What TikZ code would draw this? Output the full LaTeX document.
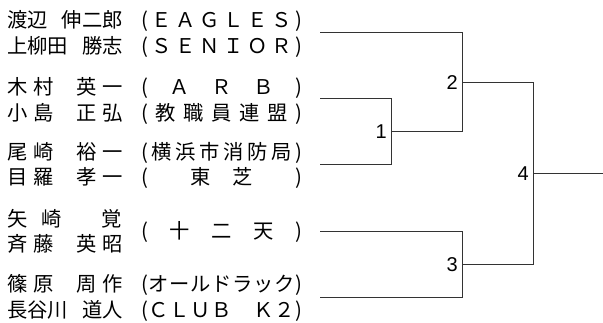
\documentclass[tikz,border=0pt]{standalone}
\usepackage{fontspec}
\setmainfont{Noto Sans CJK JP}
\newfontfamily\numfont{Liberation Sans}
\usetikzlibrary{positioning}
% name field: surname box, gap, given name box
\newcommand{\pname}[2]{\makebox[47pt][s]{#1}\hspace{22pt}\makebox[47pt][s]{#2}}
% club field, spread between the brackets
\newcommand{\tname}[1]{\makebox[161pt][s]{#1}}

\begin{document}
\begin{tikzpicture}[x=1pt,y=-1pt,
  player/.style={anchor=west,inner sep=0pt,text height=16pt,text depth=1pt,
    font=\fontsize{20.3pt}{24pt}\selectfont},
  club/.style={player},
  score/.style={inner sep=2pt,font=\numfont\fontsize{20pt}{24pt}\selectfont},
  line/.style={line width=1pt,draw=black!80}]
\useasboundingbox (0,0) rectangle (603,323);

% Pair 1
  \node[player] (n1a) at (7,20) {渡辺\hspace{14pt}伸二郎};
  \node[player] (n1b) at (7,46) {上柳田\hspace{14pt}勝志};
  \node[club] (t1a) at (141,20) {\tname{(\hfill Ｅ\hfill Ａ\hfill Ｇ\hfill Ｌ\hfill Ｅ\hfill Ｓ\hfill)}};
  \node[club] (t1b) at (141,46) {\tname{(\hfill Ｓ\hfill Ｅ\hfill Ｎ\hfill Ｉ\hfill Ｏ\hfill Ｒ\hfill)}};

% Pair 2
  \node[player] (n2a) at (7,87) {\pname{木\hfill 村}{英\hfill 一}};
  \node[player] (n2b) at (7,113) {\pname{小\hfill 島}{正\hfill 弘}};
  \node[club] (t2a) at (141,87) {\tname{(\hfill Ａ\hfill Ｒ\hfill Ｂ\hfill)}};
  \node[club] (t2b) at (141,113) {\tname{(\hfill 教\hfill 職\hfill 員\hfill 連\hfill 盟\hfill)}};

% Pair 3
  \node[player] (n3a) at (7,152) {\pname{尾\hfill 崎}{裕\hfill 一}};
  \node[player] (n3b) at (7,177) {\pname{目\hfill 羅}{孝\hfill 一}};
  \node[club] (t3a) at (141,152) {\tname{(\hfill 横\hfill 浜\hfill 市\hfill 消\hfill 防\hfill 局\hfill)}};
  \node[club] (t3b) at (141,177) {\tname{(\hfill\hfill 東\hfill 芝\hfill\hfill)}};

% Pair 4
  \node[player] (n4a) at (7,219) {矢\hspace{14pt}崎\hspace{40pt}覚};
  \node[player] (n4b) at (7,244) {\pname{斉\hfill 藤}{英\hfill 昭}};
  \node[club] (t4) at (141,231) {\tname{(\hfill 十\hfill 二\hfill 天\hfill)}};

% Pair 5
  \node[player] (n5a) at (7,284) {\pname{篠\hfill 原}{周\hfill 作}};
  \node[player] (n5b) at (7,310) {長谷川\hspace{14pt}道人};
  \node[club] (t5a) at (141,284) {\tname{(\hfill オ\hfill ー\hfill ル\hfill ド\hfill ラ\hfill ッ\hfill ク\hfill)}};
  \node[club] (t5b) at (141,310) {\tname{(\hfill Ｃ\hfill Ｌ\hfill Ｕ\hfill Ｂ\hfill 　\hfill Ｋ\hfill ２\hfill)}};

% Bracket ends and match points
  \coordinate (e1) at (320,33);
  \coordinate (e2) at (320,99);
  \coordinate (e3) at (320,165);
  \coordinate (e4) at (320,232);
  \coordinate (e5) at (320,298);
  \coordinate (m1) at (391,132);
  \coordinate (m2) at (462,83);
  \coordinate (m3) at (462,265);
  \coordinate (m4) at (533,174);
  \coordinate (champ) at (603,174);

% Match numbers
  \node[score, left=2pt of m1] (s1) {1};
  \node[score, left=2pt of m2] (s2) {2};
  \node[score, left=2pt of m3] (s3) {3};
  \node[score, left=2pt of m4] (s4) {4};

% Brackets
  \draw[line] (e2) -| (m1);
  \draw[line] (e3) -| (m1);
  \draw[line] (e1) -| (m2);
  \draw[line] (m1) -| (m2);
  \draw[line] (e4) -| (m3);
  \draw[line] (e5) -| (m3);
  \draw[line] (m2) -| (m4);
  \draw[line] (m3) -| (m4);
  \draw[line] (m4) -- (champ);
\end{tikzpicture}
\end{document}
